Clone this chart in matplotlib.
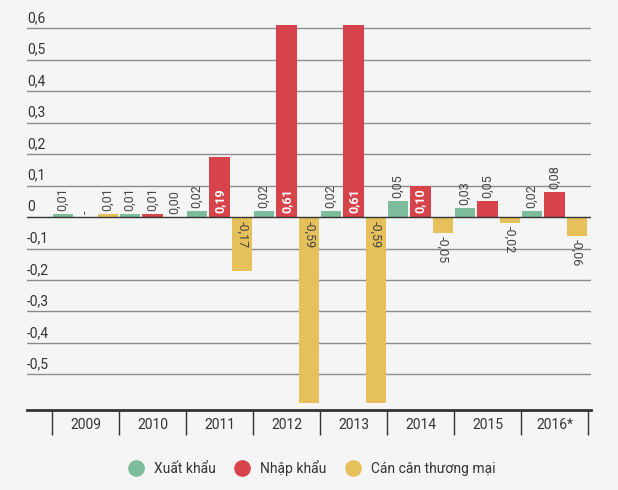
import matplotlib
matplotlib.use("Agg")
import matplotlib.pyplot as plt
from matplotlib.lines import Line2D
import numpy as np

plt.rcParams['font.family'] = ['Roboto', 'DejaVu Sans']

years = ['2009', '2010', '2011', '2012', '2013', '2014', '2015', '2016*']
xuat_khau = [0.01, 0.01, 0.02, 0.02, 0.02, 0.05, 0.03, 0.02]
nhap_khau = [None, 0.01, 0.19, 0.61, 0.61, 0.10, 0.05, 0.08]
can_can = [0.01, 0.00, -0.17, -0.59, -0.59, -0.05, -0.02, -0.06]
series_names = ['Xuất khẩu', 'Nhập khẩu', 'Cán cân thương mại']
colors = ['#7dbd9c', '#d6434b', '#e6c05a']

bg = '#f5f5f5'
dark = '#333333'

fig = plt.figure(figsize=(6.18, 4.90), dpi=100, facecolor=bg)
ax = fig.add_axes([0.0437, 0.1633, 0.9126, 0.8367], facecolor=bg)

x = np.arange(len(years))
width = 0.30
offsets = [-0.336, 0, 0.336]

for series, off, col in zip([xuat_khau, nhap_khau, can_can], offsets, colors):
    vals = [0 if v is None else v for v in series]
    ax.bar(x + off, vals, width, color=col, zorder=3)
    for xi, v in zip(x + off, series):
        if v is None:
            ax.annotate('-', (xi, 0), xytext=(0, 2), textcoords='offset points',
                        rotation=90, ha='center', va='bottom', fontsize=9, color='#444444')
            continue
        if v >= 0:
            if v >= 0.1:
                ax.annotate(f'{v:.2f}'.replace('.', ','), (xi, 0), xytext=(0, 3),
                            textcoords='offset points', rotation=90, ha='center',
                            va='bottom', fontsize=9, color='white', fontweight='bold', zorder=4)
            else:
                ax.annotate(f'{v:.2f}'.replace('.', ','), (xi, v), xytext=(0, 2),
                            textcoords='offset points', rotation=90, ha='center',
                            va='bottom', fontsize=9, color='#444444')
        else:
            lbl = f'{v:.2f}'.replace('.', ',')
            if v <= -0.1:
                ax.annotate(lbl, (xi, 0), xytext=(0, -3), textcoords='offset points',
                            rotation=270, ha='center', va='top', fontsize=9,
                            color='#444444', zorder=4)
            else:
                ax.annotate(lbl, (xi, v), xytext=(0, -2), textcoords='offset points',
                            rotation=270, ha='center', va='top', fontsize=9,
                            color='#444444')

ax.set_xlim(-0.873, 7.545)
ax.set_ylim(-0.6127, 0.689)

# gridlines and y labels
grid_vals = [-0.5, -0.4, -0.3, -0.2, -0.1, 0.1, 0.2, 0.3, 0.4, 0.5, 0.6]
for g in grid_vals:
    ax.axhline(g, color='#8c8c8c', lw=1, zorder=1)
ax.axhline(0, color=dark, lw=1, zorder=4)
for g in grid_vals + [0]:
    lbl = '0' if g == 0 else f'{g:.1f}'.replace('.', ',')
    ax.annotate(lbl, (0, g), xycoords=ax.get_yaxis_transform(), xytext=(0, 2),
                textcoords='offset points', ha='left', va='bottom', fontsize=10,
                color=dark)

ax.set_yticks([])
ax.set_xticks(x)
ax.set_xticklabels(years, fontsize=10, color=dark)
ax.set_xticks(np.arange(-0.5, len(years)), minor=True)
ax.tick_params(axis='x', which='major', length=0, pad=6)
ax.tick_params(axis='x', which='minor', length=18, width=1, color=dark)

for s in ['top', 'left', 'right']:
    ax.spines[s].set_visible(False)
ax.spines['bottom'].set_color(dark)
ax.spines['bottom'].set_linewidth(2)

handles = [Line2D([], [], marker='o', linestyle='', markersize=11,
                  markerfacecolor=c, markeredgecolor=c) for c in colors]
fig.legend(handles, series_names, loc='center', bbox_to_anchor=(0.5, 0.045),
           ncol=3, frameon=False, fontsize=10, handletextpad=0.3,
           columnspacing=0.9, labelcolor=dark)

fig.savefig('out.png', dpi=100, facecolor=bg)
